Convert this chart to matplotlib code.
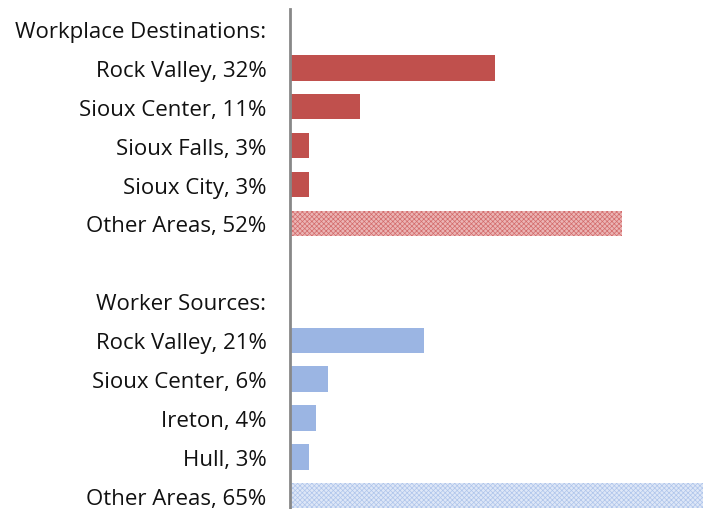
import matplotlib
matplotlib.use("Agg")
import matplotlib.pyplot as plt

labels = ["Workplace Destinations:", "Rock Valley, 32%", "Sioux Center, 11%", "Sioux Falls, 3%",
          "Sioux City, 3%", "Other Areas, 52%", "", "Worker Sources:", "Rock Valley, 21%",
          "Sioux Center, 6%", "Ireton, 4%", "Hull, 3%", "Other Areas, 65%"]
values = [0, 32, 11, 3, 3, 52, 0, 0, 21, 6, 4, 3, 65]
groups = ["", "dest", "dest", "dest", "dest", "dest_other", "", "", "src", "src", "src", "src", "src_other"]

plt.rcParams['font.family'] = ['Open Sans', 'DejaVu Sans']
plt.rcParams['hatch.linewidth'] = 0.5

fig = plt.figure(figsize=(7.03, 5.10), dpi=100)
ax = fig.add_axes([290/703, 0, 1 - 290/703, 500/510])

red = "#C0504D"
blue = "#9BB5E3"
for i, (v, g) in enumerate(zip(values, groups)):
    if v == 0:
        continue
    if g == "dest":
        ax.barh(i, v, height=0.65, color=red)
    elif g == "dest_other":
        ax.barh(i, v, height=0.65, facecolor="#EBB5B5", edgecolor="#D36B6B", hatch="xxxxxxx", linewidth=0)
    elif g == "src":
        ax.barh(i, v, height=0.65, color=blue)
    else:
        ax.barh(i, v, height=0.65, facecolor="#DEE7F7", edgecolor="#AFC5EB", hatch="xxxxxxx", linewidth=0)

ax.set_yticks(range(len(labels)))
ax.set_yticklabels(labels, fontsize=16, color="#111111")
ax.tick_params(axis='y', length=0, pad=17)
ax.set_xticks([])
ax.set_xlim(0, 64.6)
ax.set_ylim(12.34, -0.514)
for s in ["top", "right", "bottom"]:
    ax.spines[s].set_visible(False)
ax.spines["left"].set_color("#888888")
ax.spines["left"].set_linewidth(2)

fig.savefig("out.png", dpi=100)
